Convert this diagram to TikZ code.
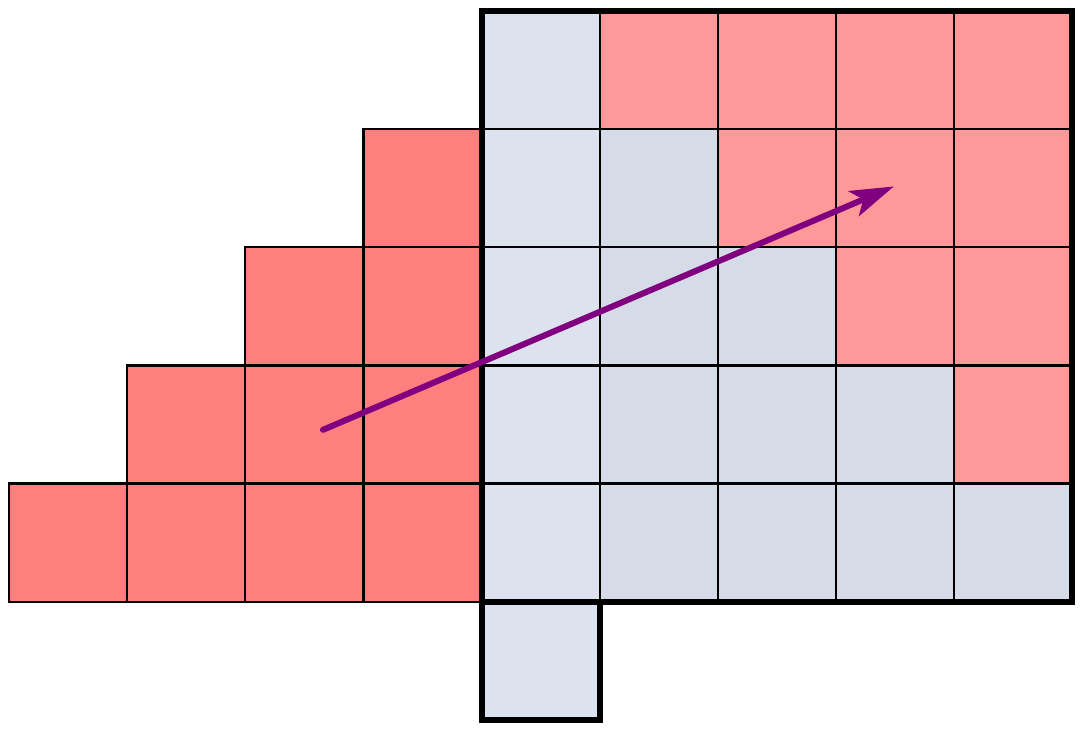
\documentclass[tikz,border=0pt]{standalone}
\usetikzlibrary{arrows.meta}
\definecolor{leftred}{HTML}{FF7F7F}
\definecolor{rightpink}{HTML}{FF9999}
\definecolor{lightblue}{HTML}{DCE3EE}
\definecolor{darkblue}{HTML}{D5DCE7}
\definecolor{arrowpurple}{HTML}{800080}
\tikzset{
  cell/.style={draw=black, line width=0.55pt},
  border/.style={draw=black, line width=1.45pt},
  vec/.style={draw=arrowpurple, line width=1.45pt, line cap=round, -{Stealth[length=10.5pt,width=6.5pt,inset=2.5pt]}}
}
\begin{document}
\begin{tikzpicture}
\useasboundingbox (-0.076,-0.076) rectangle (9.116,6.093);
% left staircase
\foreach \x/\y in {3/4, 2/3, 3/3, 1/2, 2/2, 3/2, 0/1, 1/1, 2/1, 3/1}
  \path[cell, fill=leftred] (\x,\y) rectangle ++(1,1);
% first column of right region (light blue)
\foreach \y in {0,1,2,3,4,5}
  \path[cell, fill=lightblue] (4,\y) rectangle ++(1,1);
% darker blue cells
\foreach \x/\y in {5/4, 5/3, 6/3, 5/2, 6/2, 7/2, 5/1, 6/1, 7/1, 8/1}
  \path[cell, fill=darkblue] (\x,\y) rectangle ++(1,1);
% pink cells
\foreach \x/\y in {5/5, 6/5, 7/5, 8/5, 6/4, 7/4, 8/4, 7/3, 8/3, 8/2}
  \path[cell, fill=rightpink] (\x,\y) rectangle ++(1,1);
% thick borders
\draw[border] (4,1) rectangle (9,6);
\draw[border] (4,0) rectangle (5,1);
% arrow
\coordinate (start) at (2.658,2.455);
\coordinate (tip) at (7.49,4.515);
\draw[vec] (start) -- (tip);
\end{tikzpicture}
\end{document}
